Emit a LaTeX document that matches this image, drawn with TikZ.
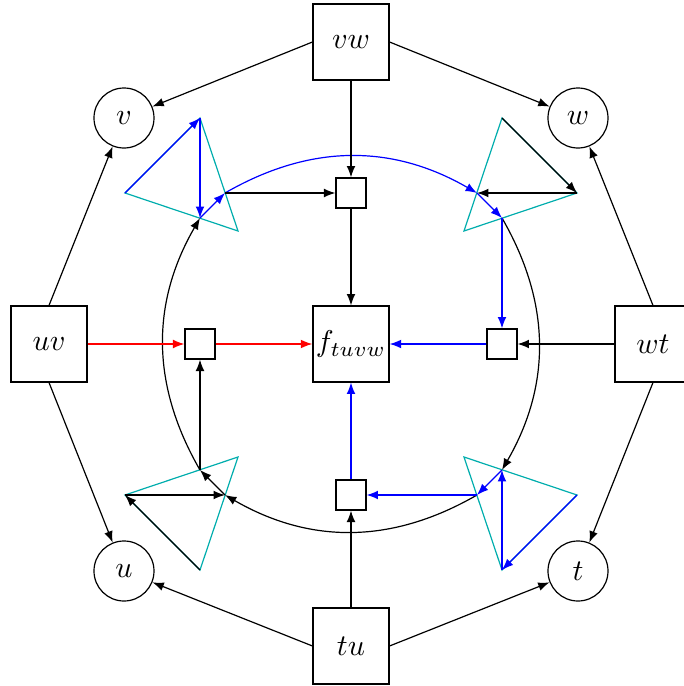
\documentclass[tikz,border=0pt]{standalone}
\usetikzlibrary{arrows.meta}
\definecolor{tricol}{rgb}{0,0.68,0.68}
\begin{document}
\begin{tikzpicture}[x=0.33333pt,y=0.33333pt,
  bigbox/.style={draw, minimum size=25.3pt, inner sep=1pt},
  smallbox/.style={draw, minimum size=10pt, inner sep=0pt},
  vert/.style={draw, circle, minimum size=20pt, inner sep=0pt},
  arr/.style={-{Latex[length=3.8pt,width=2.9pt]}},
  tri/.style={draw=tricol}]
\useasboundingbox (-351,-342) rectangle (333,344);
% main nodes
\node[bigbox] (vw) at (0,302) {$vw$};
\node[bigbox] (uv) at (-302,0) {$uv$};
\node[bigbox] (wt) at (302,0) {$wt$};
\node[bigbox] (tu) at (0,-302) {$tu$};
\node[bigbox] (f) at (0,0) {$f_{tuvw}$};
\node[vert] (v) at (-227,226) {$v$};
\node[vert] (w) at (227,226) {$w$};
\node[vert] (u) at (-227,-227) {$u$};
\node[vert] (t) at (227,-227) {$t$};
\node[smallbox] (sT) at (0,151) {};
\node[smallbox] (sL) at (-151,0) {};
\node[smallbox] (sR) at (151,0) {};
\node[smallbox] (sB) at (0,-151) {};
% triangle points
\coordinate (a1) at (-226,151); \coordinate (a2) at (-151,226); \coordinate (a3) at (-113,113);
\coordinate (ap1) at (-151,126); \coordinate (ap2) at (-126,151);
\coordinate (b1) at (151,226); \coordinate (b2) at (226,151); \coordinate (b3) at (113,113);
\coordinate (bp1) at (126,151); \coordinate (bp2) at (151,126);
\coordinate (c1) at (226,-151); \coordinate (c2) at (151,-226); \coordinate (c3) at (113,-113);
\coordinate (cp1) at (151,-126); \coordinate (cp2) at (126,-151);
\coordinate (d1) at (-151,-226); \coordinate (d2) at (-226,-151); \coordinate (d3) at (-113,-113);
\coordinate (dp1) at (-126,-151); \coordinate (dp2) at (-151,-126);
% triangles
\draw[tri] (a1) -- (a2) -- (a3) -- cycle;
\draw[tri] (b1) -- (b2) -- (b3) -- cycle;
\draw[tri] (c1) -- (c2) -- (c3) -- cycle;
\draw[tri] (d1) -- (d2) -- (d3) -- cycle;
% triangle edges
\draw[arr,blue] (a1) -- (a2);
\draw[arr,blue] (a2) -- (ap1);
\draw[arr,blue] (ap1) -- (ap2);
\draw[arr] (b1) -- (b2);
\draw[arr] (b2) -- (bp1);
\draw[arr,blue] (bp1) -- (bp2);
\draw[arr,blue] (c1) -- (c2);
\draw[arr,blue] (c2) -- (cp1);
\draw[arr,blue] (cp1) -- (cp2);
\draw[arr] (d1) -- (d2);
\draw[arr] (d2) -- (dp1);
\draw[arr] (dp1) -- (dp2);
% arcs
\draw[arr,blue] (ap2) to[bend left=30] (bp1);
\draw[arr] (bp2) to[bend left=30] (cp1);
\draw[arr] (cp2) to[bend left=30] (dp1);
\draw[arr] (dp2) to[bend left=30] (ap1);
% to small squares
\draw[arr] (ap2) -- (sT);
\draw[arr,blue] (bp2) -- (sR);
\draw[arr,blue] (cp2) -- (sB);
\draw[arr] (dp2) -- (sL);
% small squares to f
\draw[arr] (sT) -- (f);
\draw[arr,blue] (sR) -- (f);
\draw[arr,blue] (sB) -- (f);
\draw[arr,red] (sL) -- (f);
% outer to small
\draw[arr] (vw) -- (sT);
\draw[arr] (wt) -- (sR);
\draw[arr] (tu) -- (sB);
\draw[arr,red] (uv) -- (sL);
% outer to circles
\draw[arr] (vw.west) -- (v);
\draw[arr] (vw.east) -- (w);
\draw[arr] (uv.north) -- (v);
\draw[arr] (uv.south) -- (u);
\draw[arr] (wt.north) -- (w);
\draw[arr] (wt.south) -- (t);
\draw[arr] (tu.west) -- (u);
\draw[arr] (tu.east) -- (t);
\end{tikzpicture}
\end{document}
